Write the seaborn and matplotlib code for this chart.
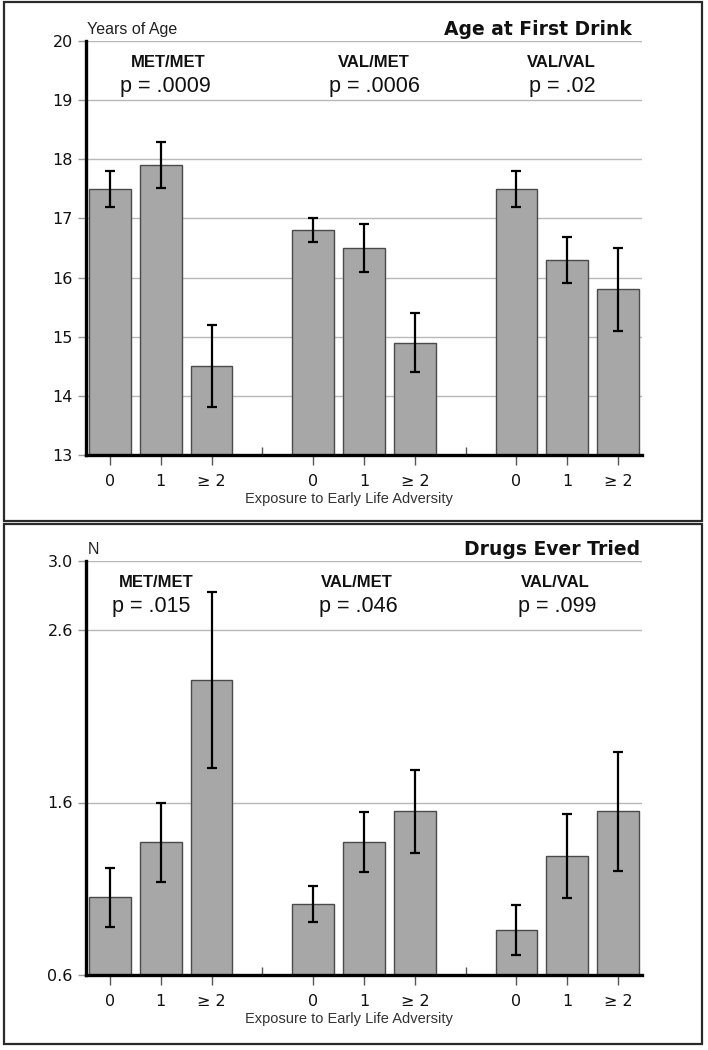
import seaborn as sns
import matplotlib.pyplot as plt
from matplotlib.patches import Rectangle

genotypes = ["MET/MET", "VAL/MET", "VAL/VAL"]
exposure = ["0", "1", "≥ 2"]

# age at first drink: mean and half-width of error bar, per genotype x exposure
age_mean = [17.5, 17.9, 14.5, 16.8, 16.5, 14.9, 17.5, 16.3, 15.8]
age_err = [0.3, 0.39, 0.69, 0.2, 0.4, 0.5, 0.3, 0.39, 0.7]
age_p = ["p = .0009", "p = .0006", "p = .02"]
age_ticks = [13, 14, 15, 16, 17, 18, 19, 20]

# drugs ever tried (N)
drug_mean = [1.05, 1.37, 2.31, 1.01, 1.37, 1.55, 0.86, 1.29, 1.55]
drug_err = [0.17, 0.23, 0.51, 0.105, 0.175, 0.24, 0.145, 0.245, 0.345]
drug_p = ["p = .015", "p = .046", "p = .099"]
drug_ticks = [0.6, 1.6, 2.6, 3.0]

sns.set_style("white")
plt.rcParams['font.family'] = ['DejaVu Sans']

W, H = 708, 1050
fig = plt.figure(figsize=(W / 100, H / 100), dpi=100)

# outer frames round each panel
for y0, y1 in [(2, 521), (524, 1044)]:
	fig.patches.append(Rectangle((4 / W, 1 - y1 / H), 698 / W, (y1 - y0) / H,
								 transform=fig.transFigure, fill=False,
								 edgecolor="#2a2a2a", linewidth=1.6))

helv = ["Liberation Sans", "DejaVu Sans"]
narrow = ["Liberation Sans Narrow", "Liberation Sans", "DejaVu Sans"]

panels = [
	# top px, bottom px, means, errs, pvals, ticks, tick fmt, units, title, title x offset, label x, p x
	(41, 455, age_mean, age_err, age_p, age_ticks, "{:.0f}", "Years of Age",
	 "Age at First Drink", -7.5, [1.14, 5.2, 8.88], [1.1, 5.2, 8.9]),
	(561, 975, drug_mean, drug_err, drug_p, drug_ticks, "{:.1f}", "N",
	 "Drugs Ever Tried", -1.5, [0.92, 4.86, 8.76], [0.82, 4.88, 8.8]),
]

for (top, bot, means, errs, pvals, ticks, fmt, units, title, tx,
	 lab_x, p_x) in panels:
	ax = fig.add_axes([86 / W, 1 - bot / H, 556 / W, (bot - top) / H])

	# slot positions: 3 bars per genotype with an empty slot between groups
	pos = [g * 4 + i for g in range(len(genotypes)) for i in range(len(exposure))]
	sns.barplot(x=pos, y=means, native_scale=True, width=0.82, color="#a7a7a7",
				saturation=1, edgecolor="#4a4a4a", linewidth=1, errorbar=None,
				ax=ax, zorder=2)
	ax.errorbar(pos, means, yerr=errs, fmt="none", ecolor="black",
				elinewidth=1.6, capsize=3.5, capthick=1.6, zorder=3)

	ax.set_xlim(-0.47, 10.47)
	ax.set_ylim(ticks[0], ticks[-1])
	ax.set_yticks(ticks)
	ax.set_yticklabels([fmt.format(t) for t in ticks], fontsize=11.5,
					   color="#111111")
	ax.set_xticks(pos)
	ax.set_xticklabels(exposure * len(genotypes), fontsize=11.5, color="#111111")
	ax.set_xticks([3, 7], minor=True)
	ax.set_xlabel("")
	ax.set_ylabel("")

	ax.tick_params(axis="y", left=True, direction="out", length=6, width=1,
				   color="#9a9a9a", pad=3.5)
	ax.tick_params(axis="x", which="major", bottom=True, direction="out",
				   length=7.5, width=1, color="#555555", pad=6)
	ax.tick_params(axis="x", which="minor", bottom=True, direction="in",
				   length=6, width=1, color="#555555")

	ax.yaxis.grid(True, color="#b8b8b8", linewidth=1)
	ax.set_axisbelow(True)
	for s in ["top", "right"]:
		ax.spines[s].set_visible(False)
	for s in ["left", "bottom"]:
		ax.spines[s].set_linewidth(2.4)
		ax.spines[s].set_color("black")
		ax.spines[s].set_zorder(4)

	ax.annotate(units, xy=(0, 1), xycoords="axes fraction", xytext=(1, 5),
				textcoords="offset points", ha="left", va="baseline",
				fontsize=11.5, family=helv, color="#222222")
	ax.annotate(title, xy=(1, 1), xycoords="axes fraction", xytext=(tx, 4.5),
				textcoords="offset points", ha="right", va="baseline",
				fontsize=13.5, fontweight="bold", color="#111111")

	for g, name in enumerate(genotypes):
		ax.annotate(name, xy=(lab_x[g], 1), xycoords=("data", "axes fraction"),
					xytext=(0, -18.5), textcoords="offset points", ha="center",
					va="baseline", fontsize=12, fontweight="bold", family=helv,
					color="#111111")
		ax.annotate(pvals[g], xy=(p_x[g], 1), xycoords=("data", "axes fraction"),
					xytext=(0, -37), textcoords="offset points", ha="center",
					va="baseline", fontsize=15.5, family=helv, color="#111111")

	ax.annotate("Exposure to Early Life Adversity", xy=(4.71, 0),
				xycoords=("data", "axes fraction"), xytext=(0, -34.5),
				textcoords="offset points", ha="center", va="baseline",
				fontsize=10.5, family=narrow, color="#333333")

fig.savefig("out.png", dpi=100)
